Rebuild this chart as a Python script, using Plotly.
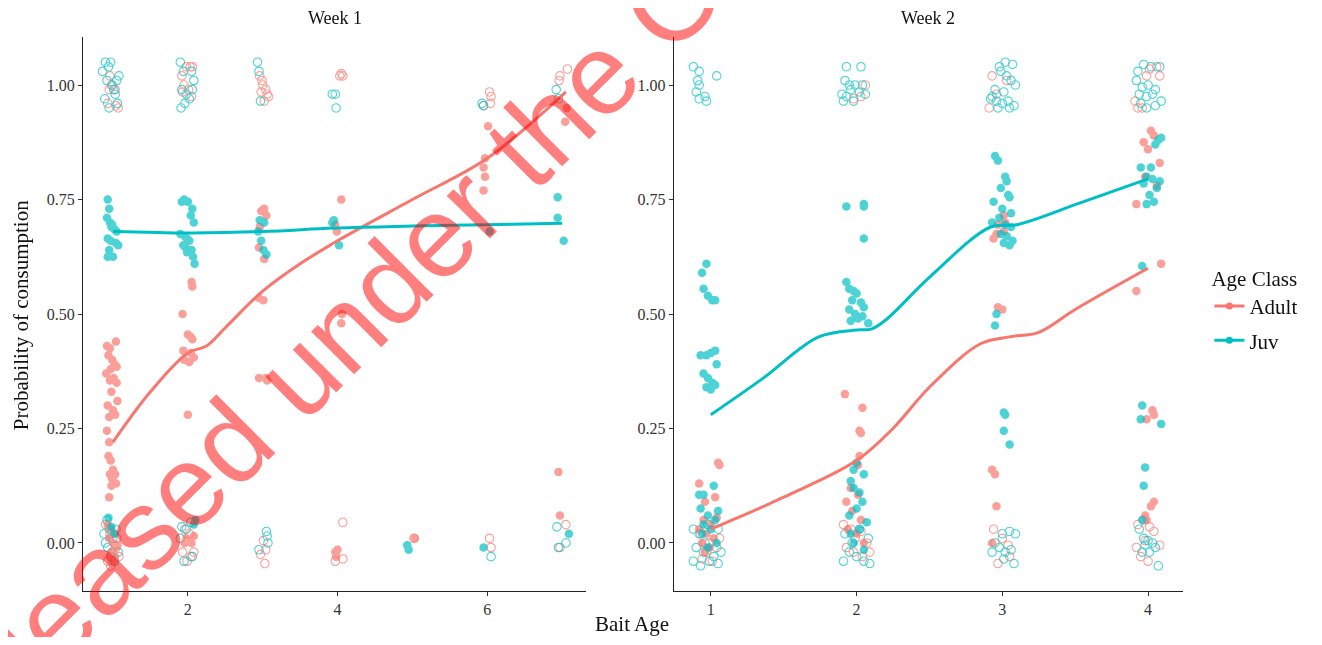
import plotly.graph_objects as go

RED = "#F8766D"
TEAL = "#00BFC4"

# ---------------- data (x = bait age incl. jitter, y = probability) ----------------
W1_JUV_OPEN = [(0.86,1.03),(0.90,1.05),(0.94,1.04),(0.97,1.05),(0.92,1.01),(0.99,1.00),(1.05,1.01),(1.08,1.02),
               (1.03,0.98),(0.89,0.97),(0.95,0.95),(1.06,0.96),(1.01,0.99),
               (0.92,0.05),(0.95,0.03),(0.88,0.02),(1.00,0.01),(1.04,0.03),(0.93,-0.01),(0.97,-0.03),(1.07,-0.02),(1.02,-0.04),(0.90,0.00),
               (1.90,1.05),(1.94,1.03),(2.05,1.03),(2.08,1.01),(1.92,0.99),(1.98,0.98),(2.02,0.97),(1.96,0.96),(1.91,0.95),(2.06,0.99),
               (1.92,0.035),(1.98,0.03),(2.04,0.045),(1.95,-0.04),(2.06,-0.03),(1.90,0.01),
               (2.93,1.05),(2.95,1.03),(2.97,0.965),
               (3.05,0.025),(3.06,0.015),(2.95,-0.015),(3.07,0.0),
               (3.93,0.98),(3.97,0.98),(3.98,0.95),
               (5.93,0.96),(5.95,0.955),(6.05,-0.03),
               (6.92,0.99),(6.95,0.97),(6.93,0.035),(7.05,0.0),(6.95,-0.01)]
W1_ADULT_OPEN = [(0.96,1.02),(1.03,0.99),(1.07,0.95),(0.98,1.00),(0.95,0.99),(1.04,0.955),(0.93,0.96),
                 (0.90,0.04),(0.96,0.02),(1.05,0.01),(0.99,-0.02),(0.93,-0.04),(1.08,-0.03),(0.97,-0.05),
                 (1.92,1.02),(1.98,1.04),(2.03,1.04),(2.06,1.04),(1.95,1.00),(2.01,0.99),(2.05,0.975),(1.93,0.985),
                 (1.96,0.03),(2.02,0.02),(1.93,-0.02),(2.04,-0.03),(1.99,-0.04),(2.08,-0.02),
                 (2.96,1.02),(3.00,1.00),(3.04,0.99),(2.98,0.985),(3.06,0.98),(3.02,0.965),(3.08,0.975),(2.99,1.01),
                 (3.01,0.005),(3.04,-0.015),(2.97,-0.025),(3.03,-0.045),
                 (4.05,1.025),(4.07,1.02),(4.03,1.02),(4.07,0.045),(3.97,-0.04),(4.07,-0.035),
                 (5.02,0.01),
                 (6.03,0.985),(6.05,0.975),(6.04,0.96),(5.95,0.955),(6.03,0.01),(6.05,-0.01),
                 (6.97,1.02),(6.96,1.01),(7.07,1.035),(7.05,0.04),(6.97,-0.01)]
W1_JUV_FILLED = [(0.93,0.75),(0.95,0.73),(0.92,0.71),(0.96,0.70),(0.98,0.69),(1.02,0.685),(1.05,0.68),(0.93,0.665),
                 (0.97,0.66),(1.04,0.655),(1.07,0.65),(0.95,0.64),(0.93,0.625),(1.00,0.625),(0.99,0.695),
                 (0.94,0.055),(0.98,0.035),(1.02,0.02),
                 (1.92,0.745),(1.95,0.75),(2.00,0.745),(2.06,0.73),(2.04,0.715),(2.08,0.70),(1.90,0.675),(1.96,0.67),
                 (1.99,0.665),(2.02,0.66),(1.94,0.65),(1.97,0.645),(2.05,0.64),(1.99,0.635),(2.07,0.625),(2.09,0.61),
                 (2.10,0.05),(2.08,0.04),
                 (2.96,0.705),(3.02,0.70),(2.94,0.68),(2.98,0.66),(3.01,0.64),(3.05,0.63),
                 (3.95,0.705),(3.93,0.70),(4.02,0.65),
                 (4.93,-0.005),(4.95,-0.015),
                 (6.03,0.68),(5.95,-0.01),
                 (6.94,0.755),(6.94,0.71),(7.02,0.66),(7.09,0.02)]
W1_ADULT_FILLED = [(0.92,0.43),(0.96,0.425),(1.04,0.44),(0.94,0.41),(0.99,0.40),(1.02,0.39),(0.97,0.38),(0.91,0.37),
                   (1.05,0.385),(1.01,0.36),(0.96,0.355),(1.05,0.35),(0.98,0.33),(1.06,0.31),(0.93,0.30),(1.00,0.29),
                   (0.95,0.275),(1.03,0.28),(0.92,0.245),(0.95,0.22),(0.94,0.19),(0.97,0.18),(1.00,0.16),(0.96,0.15),
                   (1.03,0.15),(0.99,0.14),(1.04,0.13),(0.98,0.125),(0.95,0.10),
                   (0.93,0.04),(0.97,0.03),(1.02,0.02),(0.95,0.01),(1.00,0.0),(1.05,-0.01),(0.98,-0.02),(1.03,-0.03),
                   (0.96,-0.03),(1.01,-0.04),(1.06,-0.005),
                   (2.05,0.57),(2.06,0.56),(1.93,0.50),(2.00,0.455),(2.04,0.45),(2.06,0.445),(1.94,0.42),(2.04,0.415),
                   (2.08,0.405),(1.95,0.40),(2.02,0.395),(2.00,0.28),
                   (1.98,0.01),(2.02,0.005),(2.05,0.0),(1.96,0.0),(2.08,0.015),
                   (2.98,0.725),(3.02,0.73),(3.05,0.715),(2.96,0.69),(2.95,0.645),(3.02,0.62),(2.95,0.535),(3.01,0.53),
                   (2.95,0.36),(3.04,0.36),(3.06,0.355),
                   (4.05,0.75),(3.97,0.695),(3.99,0.68),(4.06,0.50),(4.05,0.48),
                   (3.97,-0.02),(3.98,-0.03),(4.00,-0.015),
                   (5.03,0.01),
                   (6.01,0.91),(5.97,0.84),(5.95,0.82),(5.97,0.80),(5.95,0.77),
                   (7.06,0.95),(7.04,0.92),(6.95,0.155),(6.97,0.06)]

W2_JUV_OPEN = [(0.88,1.04),(0.92,1.03),(0.91,1.01),(0.92,1.00),(0.90,0.985),(0.92,0.97),(0.96,0.975),(1.04,1.02),(0.97,0.965),
               (0.88,0.03),(0.92,0.02),(0.98,0.04),(1.05,0.03),(0.90,-0.01),(0.95,-0.02),(1.02,-0.03),(1.07,-0.02),
               (0.88,-0.04),(0.93,-0.05),(0.99,-0.04),(1.05,-0.045),(0.96,0.0),
               (1.93,1.04),(2.03,1.04),(1.92,1.01),(1.95,1.0),(1.99,1.0),(2.04,1.0),(1.90,0.98),(1.93,0.975),
               (1.96,0.99),(2.02,0.985),(1.91,0.965),(1.98,0.965),(2.06,0.98),
               (1.92,0.02),(1.97,0.0),(2.02,0.03),(2.08,0.01),(1.95,-0.02),(2.00,-0.03),(2.05,-0.04),(2.09,-0.045),(1.91,-0.04),
               (2.98,1.04),(3.02,1.05),(3.07,1.045),(2.99,1.03),(3.03,1.02),(3.06,1.01),(3.09,1.00),(2.95,0.99),
               (3.01,0.985),(2.92,0.97),(2.96,0.965),(3.00,0.96),(3.04,0.965),(2.97,0.95),(3.05,0.95),(3.08,0.955),(2.93,0.975),
               (2.95,0.0),(3.00,0.02),(3.05,0.025),(3.09,0.02),(2.98,-0.01),(3.02,-0.02),(3.06,-0.015),(2.93,-0.02),
               (3.01,-0.035),(3.08,-0.045),
               (3.93,1.03),(3.97,1.045),(4.02,1.04),(4.08,1.04),(3.92,1.01),(3.96,0.995),(4.00,1.0),(4.05,0.99),
               (3.94,0.98),(3.99,0.975),(4.03,0.98),(3.95,0.96),(4.05,0.955),(4.09,0.965),(3.99,0.95),
               (3.94,0.03),(3.97,0.01),(4.00,0.005),(4.03,0.0),(3.98,-0.005),(4.05,-0.01),(3.96,-0.02),(4.01,-0.02),(4.07,-0.05)]
W2_ADULT_OPEN = [(0.93,0.02),(0.99,0.0),(1.04,-0.01),(0.97,-0.02),(1.01,-0.04),(1.06,0.01),(0.94,-0.035),
                 (2.06,1.0),(2.03,0.975),(1.98,0.97),
                 (1.91,0.04),(1.96,0.03),(2.03,0.025),(2.07,0.0),(1.93,-0.01),(1.98,-0.02),(2.04,-0.03),(2.09,-0.02),(1.99,0.01),
                 (2.93,1.02),(2.96,0.98),(3.03,1.01),(2.91,0.95),
                 (2.94,0.03),(3.00,0.01),(3.04,-0.005),(2.97,-0.045),(3.05,-0.03),
                 (4.01,1.035),(4.06,1.04),(4.08,1.02),(3.99,1.02),(3.93,0.95),(3.96,0.95),(3.91,0.965),
                 (3.93,0.04),(3.97,0.05),(4.01,0.035),(4.04,0.025),(3.92,-0.01),(3.95,-0.03),(4.00,-0.04),(4.08,-0.005),(3.98,0.005)]
W2_JUV_FILLED = [(0.97,0.61),(0.94,0.59),(0.95,0.555),(0.98,0.54),(1.01,0.53),(1.03,0.53),
                 (0.93,0.41),(0.97,0.41),(1.00,0.415),(1.03,0.42),(1.04,0.39),(0.95,0.37),(0.98,0.36),(1.01,0.35),
                 (1.03,0.345),(0.97,0.34),(1.00,0.335),
                 (0.92,0.105),(0.95,0.105),(1.02,0.125),(0.93,0.075),(1.05,0.07),(0.98,0.06),(1.03,0.05),(0.95,0.04),
                 (1.00,0.03),(0.94,0.02),(1.04,0.0),(0.98,-0.01),
                 (1.93,0.735),(2.05,0.74),(2.05,0.735),(2.05,0.665),(1.93,0.57),(1.95,0.555),(1.98,0.55),(2.00,0.545),
                 (1.97,0.53),(2.03,0.525),(2.05,0.515),(1.95,0.51),(1.99,0.50),(2.01,0.49),(2.04,0.495),(1.96,0.485),(2.08,0.48),
                 (2.00,0.175),(1.98,0.16),(2.05,0.15),(1.96,0.135),(1.98,0.12),(2.02,0.11),(2.04,0.09),(2.00,0.075),
                 (1.95,0.06),(2.07,0.045),(2.02,0.03),(1.98,0.0),(2.05,-0.015),(1.96,0.02),
                 (2.95,0.845),(2.97,0.835),(3.02,0.80),(3.03,0.79),(2.99,0.775),(3.04,0.76),(3.05,0.755),(2.94,0.745),
                 (3.00,0.73),(3.06,0.72),(2.93,0.70),(2.98,0.71),(3.02,0.695),(3.06,0.69),(2.99,0.675),(3.03,0.67),
                 (3.07,0.66),(3.01,0.655),(3.05,0.65),
                 (2.96,0.50),(2.95,0.475),(3.01,0.285),(3.02,0.28),(3.01,0.245),(3.05,0.215),
                 (3.95,0.82),(3.99,0.80),(4.03,0.795),(4.06,0.775),(3.97,0.785),(4.01,0.76),(4.04,0.745),(3.99,0.74),
                 (4.07,0.88),(4.09,0.885),(4.05,0.87),(4.08,0.79),(4.02,0.82),(3.96,0.605),
                 (3.96,0.30),(3.95,0.27),(4.09,0.26),(3.98,0.165),(3.97,0.125),(3.96,0.05)]
W2_ADULT_FILLED = [(1.05,0.175),(1.06,0.17),(0.92,0.13),(1.03,0.10),(0.96,0.09),(0.95,0.05),(1.00,0.04),(0.92,0.03),
                   (0.97,0.02),(1.02,0.01),(0.94,0.0),(0.99,-0.01),(0.96,-0.02),(1.04,0.055),
                   (1.92,0.325),(2.04,0.295),(2.02,0.245),(2.03,0.24),(2.02,0.19),(2.01,0.17),(1.96,0.12),(2.01,0.105),
                   (1.93,0.09),(1.97,0.07),(2.03,0.05),(1.94,0.03),(2.00,0.02),(2.05,0.0),
                   (2.97,0.695),(3.02,0.70),(2.96,0.675),(2.94,0.665),(3.01,0.68),(3.01,0.715),
                   (2.97,0.515),(3.00,0.51),(2.93,0.16),(2.95,0.15),(2.96,0.08),(2.93,0.0),
                   (4.02,0.90),(4.04,0.89),(3.97,0.875),(4.00,0.86),(4.08,0.83),(3.98,0.80),(4.06,0.78),(3.92,0.74),
                   (4.09,0.61),(3.92,0.55),(4.03,0.29),(3.99,0.27),(4.04,0.28),(4.04,0.09),(4.02,0.08),(3.98,0.06),(3.99,0.05)]

# smoothed fits
W1_ADULT_FIT_X = [1, 1.5, 2, 2.25, 2.5, 3, 3.5, 4, 5, 6, 7.05]
W1_ADULT_FIT_Y = [0.22, 0.33, 0.415, 0.43, 0.47, 0.55, 0.61, 0.66, 0.75, 0.84, 0.985]
W1_JUV_FIT_X = [1, 2, 3, 4, 5, 6, 7]
W1_JUV_FIT_Y = [0.681, 0.677, 0.68, 0.688, 0.692, 0.695, 0.698]
W2_ADULT_FIT_X = [1, 1.5, 2, 2.25, 2.5, 2.85, 3.05, 3.25, 3.5, 4]
W2_ADULT_FIT_Y = [0.03, 0.10, 0.18, 0.25, 0.34, 0.435, 0.45, 0.46, 0.51, 0.60]
W2_JUV_FIT_X = [1, 1.36, 1.74, 2, 2.1, 2.2, 2.5, 2.92, 3.1, 3.53, 4]
W2_JUV_FIT_Y = [0.28, 0.36, 0.45, 0.465, 0.467, 0.487, 0.58, 0.69, 0.695, 0.742, 0.795]

Y_TICKS = [0.0, 0.25, 0.5, 0.75, 1.0]
Y_TICK_TEXT = ["0.00", "0.25", "0.50", "0.75", "1.00"]
W1_X_TICKS = [2, 4, 6]
W2_X_TICKS = [1, 2, 3, 4]
PANELS = ["Week 1", "Week 2"]
CLASSES = ["Adult", "Juv"]
WATERMARK = "Released under the Official Information Act"

SERIF = "Liberation Serif"
fig = go.Figure()


def pts(data, xa, ya, color, open_):
    xs = [p[0] for p in data]
    ys = [p[1] for p in data]
    if open_:
        marker = dict(symbol="circle-open", size=8.5, color=color, line=dict(width=1.1, color=color))
    else:
        marker = dict(symbol="circle", size=8.5, color=color, line=dict(width=0))
    fig.add_trace(go.Scatter(x=xs, y=ys, mode="markers", marker=marker, opacity=0.7,
                             xaxis=xa, yaxis=ya, showlegend=False, hoverinfo="skip"))


pts(W1_ADULT_OPEN, "x", "y", RED, True)
pts(W1_JUV_OPEN, "x", "y", TEAL, True)
pts(W1_ADULT_FILLED, "x", "y", RED, False)
pts(W1_JUV_FILLED, "x", "y", TEAL, False)
pts(W2_ADULT_OPEN, "x2", "y2", RED, True)
pts(W2_JUV_OPEN, "x2", "y2", TEAL, True)
pts(W2_ADULT_FILLED, "x2", "y2", RED, False)
pts(W2_JUV_FILLED, "x2", "y2", TEAL, False)


def fit(xs, ys, xa, ya, color):
    fig.add_trace(go.Scatter(x=xs, y=ys, mode="lines", line=dict(color=color, width=3, shape="spline"),
                             xaxis=xa, yaxis=ya, showlegend=False, hoverinfo="skip"))


fit(W1_ADULT_FIT_X, W1_ADULT_FIT_Y, "x", "y", RED)
fit(W1_JUV_FIT_X, W1_JUV_FIT_Y, "x", "y", TEAL)
fit(W2_ADULT_FIT_X, W2_ADULT_FIT_Y, "x2", "y2", RED)
fit(W2_JUV_FIT_X, W2_JUV_FIT_Y, "x2", "y2", TEAL)

for name, col in zip(CLASSES, [RED, TEAL]):
    fig.add_trace(go.Scatter(x=[None], y=[None], mode="lines+markers", name=name,
                             line=dict(color=col, width=3), marker=dict(color=col, size=7),
                             legendgroup=name, xaxis="x", yaxis="y"))

axis_common = dict(showline=True, linecolor="#222", linewidth=1.2, ticks="outside", ticklen=4,
                   tickcolor="#333", showgrid=False, zeroline=False,
                   tickfont=dict(family=SERIF, size=16, color="#333"))

# page body has an 8px margin, so the figure is 16px smaller than the window
fig.update_layout(
    width=1306, height=629,
    margin=dict(l=75, r=129, t=29, b=46),
    paper_bgcolor="white", plot_bgcolor="white",
    xaxis=dict(domain=[0, 0.4574], range=[0.6, 7.32], tickvals=W1_X_TICKS, anchor="y", **axis_common),
    yaxis=dict(domain=[0, 1], range=[-0.105, 1.105], tickvals=Y_TICKS, ticktext=Y_TICK_TEXT, anchor="x", **axis_common),
    xaxis2=dict(domain=[0.5372, 1], range=[0.747, 4.24], tickvals=W2_X_TICKS, anchor="y2", **axis_common),
    yaxis2=dict(domain=[0, 1], range=[-0.105, 1.105], tickvals=Y_TICKS, ticktext=Y_TICK_TEXT, anchor="x2", **axis_common),
    legend=dict(x=1.024, y=0.6, xanchor="left", yanchor="top", tracegroupgap=4,
                title=dict(text="Age Class", font=dict(family=SERIF, size=21, color="#111")),
                font=dict(family=SERIF, size=21, color="#111"), bgcolor="rgba(0,0,0,0)"),
    showlegend=True,
)

annots = [
    dict(text=PANELS[0], x=0.2287, y=1.034, xref="paper", yref="paper", showarrow=False,
         font=dict(family=SERIF, size=18, color="#111"), xanchor="center", yanchor="middle"),
    dict(text=PANELS[1], x=0.7686, y=1.034, xref="paper", yref="paper", showarrow=False,
         font=dict(family=SERIF, size=18, color="#111"), xanchor="center", yanchor="middle"),
    dict(text="Bait Age", x=0.499, y=-0.0596, xref="paper", yref="paper", showarrow=False,
         font=dict(family=SERIF, size=21, color="#111"), xanchor="center", yanchor="middle"),
    dict(text="Probability of consumption", x=-0.0563, y=0.498, xref="paper", yref="paper", showarrow=False,
         textangle=-90, font=dict(family=SERIF, size=21, color="#111"), xanchor="center", yanchor="middle"),
    dict(text=WATERMARK, x=0.5436, y=1.083, xref="paper", yref="paper",
         showarrow=False, textangle=-45, font=dict(family="Liberation Sans", size=115, color="rgba(255,0,0,0.5)"),
         xanchor="center", yanchor="middle"),
]
fig.update_layout(annotations=annots)

fig.write_html("out.html")
